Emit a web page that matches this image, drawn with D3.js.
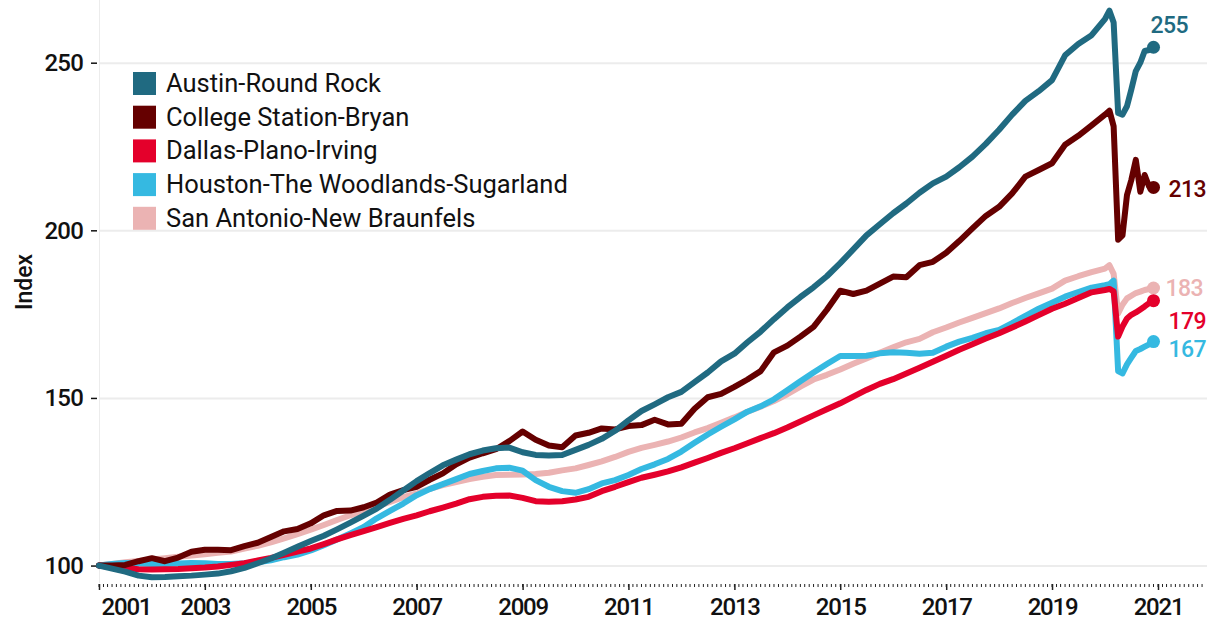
<!DOCTYPE html>
<html>
<head>
<meta charset="utf-8">
<script src="https://cdn.jsdelivr.net/npm/d3@7"></script>
<style>
  body { margin: 0; background: #fff; }
  svg text { font-family: Roboto, "Noto Sans", sans-serif; }
</style>
</head>
<body>
<div id="chart"></div>
<script>
// quarterly points 2001-2019, then monthly through 2020
var dates = [
  "2001-01","2001-04","2001-07","2001-10","2002-01","2002-04","2002-07","2002-10","2003-01","2003-04","2003-07","2003-10",
  "2004-01","2004-04","2004-07","2004-10","2005-01","2005-04","2005-07","2005-10","2006-01","2006-04","2006-07","2006-10",
  "2007-01","2007-04","2007-07","2007-10","2008-01","2008-04","2008-07","2008-10","2009-01","2009-04","2009-07","2009-10",
  "2010-01","2010-04","2010-07","2010-10","2011-01","2011-04","2011-07","2011-10","2012-01","2012-04","2012-07","2012-10",
  "2013-01","2013-04","2013-07","2013-10","2014-01","2014-04","2014-07","2014-10","2015-01","2015-04","2015-07","2015-10",
  "2016-01","2016-04","2016-07","2016-10","2017-01","2017-04","2017-07","2017-10","2018-01","2018-04","2018-07","2018-10",
  "2019-01","2019-04","2019-07","2019-10",
  "2020-01","2020-02","2020-03","2020-04","2020-05","2020-06","2020-07","2020-08","2020-09","2020-10","2020-11","2020-12"
];

var austin = [
  100, 99.1, 98.2, 97.0, 96.5, 96.6, 96.8, 97.0, 97.3, 97.6, 98.3, 99.3,
  100.7, 102.1, 103.8, 105.6, 107.3, 108.9, 110.8, 112.8, 114.9, 117.0, 119.6, 122.4,
  125.2, 127.6, 129.9, 131.6, 133.2, 134.3, 135.0, 135.2, 133.8, 133.0, 132.8, 133.0,
  134.5, 136.0, 137.8, 140.2, 143.3, 146.1, 148.1, 150.2, 151.8, 154.7, 157.6, 160.9,
  163.2, 166.6, 169.8, 173.5, 177.0, 180.1, 183.0, 186.3, 190.2, 194.3, 198.5, 201.8,
  205.1, 208.0, 211.2, 214.0, 216.0, 218.8, 222.0, 225.8, 230.0, 234.5, 238.6, 241.5,
  244.8, 252.2, 255.6, 258.2,
  263.0, 265.5, 262.0, 235.0, 234.5, 237.0, 242.0, 247.5, 250.0, 253.5, 253.8, 254.6
];

var collegeStation = [
  100, 100.0, 100.2, 101.3, 102.2, 101.3, 102.4, 104.1, 104.7, 104.7, 104.6, 105.8,
  106.8, 108.5, 110.2, 110.9, 112.6, 115.0, 116.3, 116.4, 117.4, 118.8, 121.2, 122.5,
  123.5, 125.6, 127.5, 130.2, 132.2, 133.5, 134.7, 137.1, 140.0, 137.5, 135.8, 135.3,
  138.8, 139.6, 140.9, 140.6, 141.6, 141.9, 143.5, 142.1, 142.3, 146.8, 150.2, 151.2,
  153.3, 155.5, 158.0, 163.6, 165.6, 168.3, 171.2, 176.3, 182.0, 181.0, 182.0, 184.1,
  186.2, 186.0, 189.6, 190.6, 193.3, 196.8, 200.6, 204.3, 207.0, 211.0, 216.0, 218.0,
  220.0, 225.5, 228.2, 231.3,
  234.5, 235.7, 231.0, 197.2, 198.5, 210.5, 215.0, 221.0, 211.5, 216.5, 213.0, 212.8
];

var dallas = [
  100, 99.5, 99.3, 98.9, 98.8, 98.9, 99.0, 99.2, 99.4, 99.7, 100.2, 100.7,
  101.5, 102.3, 103.2, 104.2, 105.1, 106.4, 107.8, 109.1, 110.3, 111.5, 112.7, 113.9,
  115.0, 116.2, 117.3, 118.5, 119.8, 120.5, 120.8, 120.9, 120.2, 119.2, 119.0, 119.2,
  119.7, 120.5, 122.2, 123.5, 124.9, 126.2, 127.1, 128.1, 129.3, 130.7, 132.1, 133.6,
  135.0, 136.5, 138.0, 139.5, 141.2, 143.0, 144.8, 146.6, 148.4, 150.4, 152.4, 154.2,
  155.6, 157.3, 159.0, 160.8, 162.6, 164.4, 166.0, 167.7, 169.3, 171.0, 172.8, 174.7,
  176.6, 178.1, 179.8, 181.5,
  182.2, 182.5, 181.8, 168.3, 171.3, 173.7, 174.8, 175.5, 176.4, 177.3, 178.3, 179.0
];

var houston = [
  100, 100.5, 100.8, 100.6, 100.5, 100.5, 100.6, 100.8, 100.7, 100.5, 100.5, 100.7,
  101.0, 101.6, 102.5, 103.3, 104.5, 106.1, 107.8, 109.6, 111.5, 114.1, 116.3, 118.5,
  121.0, 122.8, 124.3, 125.8, 127.3, 128.2, 129.0, 129.2, 128.3, 125.5, 123.5, 122.2,
  121.7, 122.8, 124.5, 125.5, 127.0, 128.8, 130.2, 131.8, 134.0, 136.6, 139.1, 141.4,
  143.6, 145.9, 147.5, 149.6, 152.3, 155.0, 157.6, 160.1, 162.5, 162.5, 162.6, 163.3,
  163.6, 163.5, 163.2, 163.5, 165.3, 166.8, 167.9, 169.3, 170.3, 172.3, 174.5, 176.6,
  178.4, 180.2, 181.6, 182.9,
  183.6, 183.9, 185.0, 158.0, 157.3, 160.0, 162.0, 164.0, 164.6, 165.3, 166.0, 166.8
];

var sanAntonio = [
  100, 100.5, 101.0, 101.4, 101.8, 102.2, 102.6, 103.0, 103.4, 103.8, 104.2, 105.1,
  105.9, 106.9, 108.1, 109.4, 110.7, 112.1, 113.6, 115.0, 116.3, 117.6, 119.0, 120.4,
  121.5, 122.9, 124.0, 124.9, 125.8, 126.5, 127.0, 127.1, 127.2, 127.3, 127.7, 128.4,
  129.0, 130.0, 131.1, 132.4, 133.9, 135.1, 136.0, 137.0, 138.2, 139.7, 141.0, 142.6,
  144.2, 145.9, 147.4, 149.1, 151.1, 153.4, 155.5, 156.9, 158.5, 160.2, 161.8, 163.5,
  165.1, 166.6, 167.6, 169.6, 171.0, 172.5, 173.9, 175.3, 176.7, 178.3, 179.8, 181.2,
  182.6, 185.0, 186.3, 187.5,
  188.6, 189.6, 187.0, 175.2, 177.8, 179.7, 180.5, 181.3, 181.7, 182.2, 182.5, 182.8
];

var seriesNames = ["Austin-Round Rock", "College Station-Bryan", "Dallas-Plano-Irving",
                   "Houston-The Woodlands-Sugarland", "San Antonio-New Braunfels"];
var seriesValues = [austin, collegeStation, dallas, houston, sanAntonio];
var yTicks = [100, 150, 200, 250];

var colors = ["#206a81", "#650000", "#e4002b", "#35b9e1", "#ebb3b3"];
// where each end label sits relative to its end dot
var labelOffsets = [
  { dx: -3, dy: -14 },
  { dx: 15, dy: 10 },
  { dx: 15, dy: 28 },
  { dx: 15, dy: 15.5 },
  { dx: 12, dy: 8 }
];

var W = 1207, H = 622;
var parse = d3.timeParse("%Y-%m");

var svg = d3.select("#chart").append("svg")
    .attr("width", W)
    .attr("height", H);

var x = d3.scaleTime()
    .domain([new Date(2001, 0, 1), new Date(2021, 0, 1)])
    .range([99, 1158]);

var y = d3.scaleLinear()
    .domain([94.8, 268.7])
    .range([583, 0]);

// gridlines
svg.append("g")
    .selectAll("line")
    .data(yTicks)
    .enter()
    .append("line")
    .attr("x1", 99)
    .attr("x2", W)
    .attr("y1", function (d) { return y(d) + 0.5; })
    .attr("y2", function (d) { return y(d) + 0.5; })
    .attr("stroke", "#ececec")
    .attr("stroke-width", 2);

svg.append("line")
    .attr("x1", 99.5).attr("x2", 99.5)
    .attr("y1", 0).attr("y2", 583)
    .attr("stroke", "#ececec")
    .attr("stroke-width", 1);

// y axis
var yAxis = svg.append("g")
    .attr("transform", "translate(97,0)")
    .call(d3.axisLeft(y).tickValues(yTicks).tickSize(6).tickPadding(8));
yAxis.select(".domain").remove();
yAxis.selectAll("line").attr("stroke", "#111").attr("stroke-width", 1.5);
yAxis.selectAll("text")
    .attr("fill", "#111")
    .style("font-size", "24px")
    .style("font-weight", "500")
    .style("letter-spacing", "-0.8px");

svg.append("text")
    .attr("transform", "translate(32,282) rotate(-90)")
    .attr("text-anchor", "middle")
    .style("font-size", "23px")
    .style("font-weight", "500")
    .attr("fill", "#111")
    .text("Index");

// x axis: monthly minor ticks, every second year labelled
var xAxisG = svg.append("g").attr("transform", "translate(0,584)");
var months = d3.timeMonth.range(new Date(2001, 0, 1), new Date(2021, 11, 1));
xAxisG.selectAll("line.minor")
    .data(months)
    .enter()
    .append("line")
    .attr("class", "minor")
    .attr("x1", function (d) { return x(d); })
    .attr("x2", function (d) { return x(d); })
    .attr("y1", 0)
    .attr("y2", 3)
    .attr("stroke", "#222")
    .attr("stroke-width", 1);

var majorYears = d3.range(2001, 2022, 2).map(function (yr) { return new Date(yr, 0, 1); });
var xAxis = xAxisG.append("g")
    .call(d3.axisBottom(x).tickValues(majorYears).tickSize(6).tickPadding(8)
        .tickFormat(d3.timeFormat("%Y")));
xAxis.select(".domain").remove();
xAxis.selectAll("line").attr("stroke", "#222").attr("stroke-width", 1.5);
xAxis.selectAll("text")
    .attr("fill", "#111")
    .style("font-size", "24px")
    .style("font-weight", "500")
    .style("letter-spacing", "-1.2px");
xAxis.select(".tick text").attr("text-anchor", "start").attr("x", 2);

// lines, San Antonio drawn first so the darker ones sit on top
var series = seriesNames.map(function (name, i) {
    return {
        name: name,
        color: colors[i],
        idx: i,
        points: dates.map(function (d, j) { return { date: parse(d), value: seriesValues[i][j] }; })
    };
});

var line = d3.line()
    .x(function (d) { return x(d.date); })
    .y(function (d) { return y(d.value); });

var drawOrder = series.slice().reverse();

svg.append("g")
    .selectAll("path")
    .data(drawOrder)
    .enter()
    .append("path")
    .attr("d", function (d) { return line(d.points); })
    .attr("fill", "none")
    .attr("stroke", function (d) { return d.color; })
    .attr("stroke-width", 6)
    .attr("stroke-linejoin", "round")
    .attr("stroke-linecap", "round");

// end dots + labels
var ends = svg.append("g")
    .selectAll("g")
    .data(drawOrder)
    .enter()
    .append("g");

ends.append("circle")
    .attr("cx", function (d) { return x(d.points[d.points.length - 1].date); })
    .attr("cy", function (d) { return y(d.points[d.points.length - 1].value); })
    .attr("r", 6.5)
    .attr("fill", function (d) { return d.color; });

ends.append("text")
    .attr("x", function (d) { return x(d.points[d.points.length - 1].date) + labelOffsets[d.idx].dx; })
    .attr("y", function (d) { return y(d.points[d.points.length - 1].value) + labelOffsets[d.idx].dy; })
    .attr("fill", function (d) { return d.color; })
    .style("font-size", "23px")
    .style("font-weight", "500")
    .style("letter-spacing", "-0.6px")
    .text(function (d) { return Math.round(d.points[d.points.length - 1].value); });

// legend
var legend = svg.append("g")
    .attr("transform", "translate(133,72)")
    .selectAll("g")
    .data(series)
    .enter()
    .append("g")
    .attr("transform", function (d, i) { return "translate(0," + (i * 33.7) + ")"; });

legend.append("rect")
    .attr("width", 23)
    .attr("height", 23)
    .attr("fill", function (d) { return d.color; });

legend.append("text")
    .attr("x", 33)
    .attr("y", 20)
    .attr("fill", "#111")
    .style("font-size", "25.5px")
    .style("font-weight", "400")
    .text(function (d) { return d.name; });
</script>
</body>
</html>
